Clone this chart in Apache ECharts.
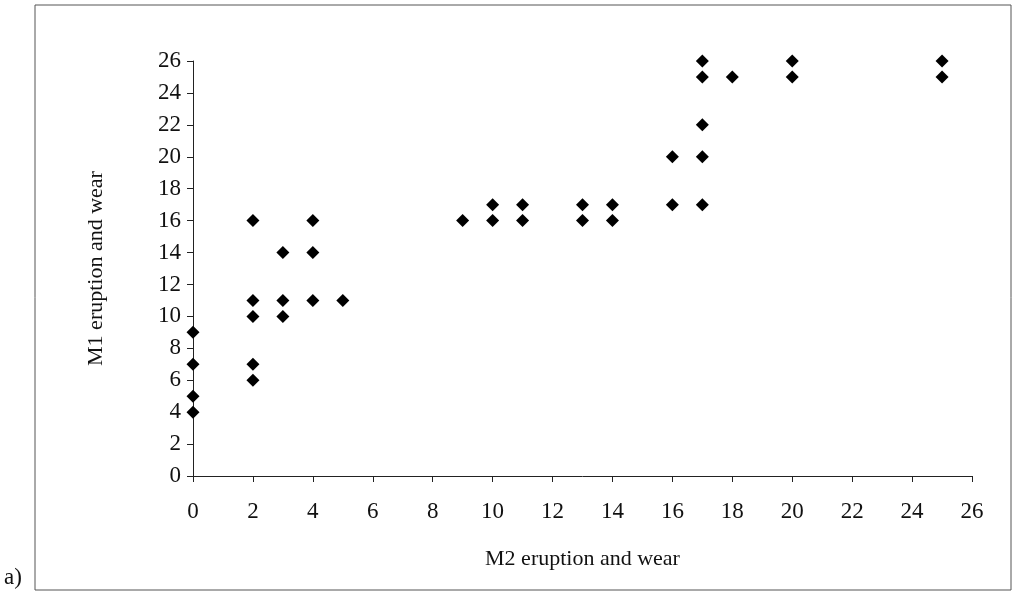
<!DOCTYPE html>
<html>
<head>
<meta charset="utf-8">
<script src="https://cdn.jsdelivr.net/npm/echarts@6/dist/echarts.min.js"></script>
<style>
  html, body { margin: 0; padding: 0; background: #fff; }
  #chart { width: 1017px; height: 597px; }
</style>
</head>
<body>
<div id="chart"></div>
<script>
// M2 (x) and M1 (y) eruption and wear scores
var m2Scores = [0, 0, 0, 0, 2, 2, 2, 2, 2, 3, 3, 3, 4, 4, 4, 5, 9, 10, 10, 11, 11, 13, 13, 14, 14, 16, 16, 17, 17, 17, 17, 17, 18, 20, 20, 25, 25];
var m1Scores = [9, 7, 5, 4, 16, 11, 10, 7, 6, 14, 11, 10, 16, 14, 11, 11, 16, 17, 16, 17, 16, 17, 16, 17, 16, 20, 17, 26, 25, 22, 20, 17, 25, 26, 25, 26, 25];
var xTitle = 'M2 eruption and wear';
var yTitle = 'M1 eruption and wear';
var panelLabel = 'a)';

var points = [];
for (var i = 0; i < m2Scores.length; i++) {
    points.push([m2Scores[i], m1Scores[i]]);
}

var font = "'Liberation Serif', 'DejaVu Serif', serif";
var myChart = echarts.init(document.getElementById('chart'));

var option = {
    backgroundColor: '#fff',
    animation: false,
    grid: { left: 193, right: 45, top: 61, bottom: 121 },
    xAxis: {
        type: 'value',
        min: 0, max: 26, interval: 2,
        name: xTitle,
        nameLocation: 'middle',
        nameGap: 72,
        nameTextStyle: { fontFamily: font, fontSize: 22, color: '#111' },
        axisLine: { show: true, onZero: false, lineStyle: { color: '#222', width: 1 } },
        axisTick: { show: true, inside: false, length: 6, lineStyle: { color: '#222' } },
        axisLabel: { fontFamily: font, fontSize: 23, color: '#111', margin: 24 },
        splitLine: { show: false }
    },
    yAxis: {
        type: 'value',
        min: 0, max: 26, interval: 2,
        name: yTitle,
        nameLocation: 'middle',
        nameGap: 86,
        nameTextStyle: { fontFamily: font, fontSize: 22, color: '#111' },
        axisLine: { show: true, lineStyle: { color: '#222', width: 1 } },
        axisTick: { show: true, inside: false, length: 6, lineStyle: { color: '#222' } },
        axisLabel: { fontFamily: font, fontSize: 23, color: '#111', margin: 12 },
        splitLine: { show: false }
    },
    graphic: [
        {
            type: 'rect',
            shape: { x: 35, y: 5, width: 976, height: 585 },
            style: { fill: 'none', stroke: '#555', lineWidth: 1 },
            silent: true
        },
        {
            type: 'text',
            left: 4, top: 566,
            style: { text: panelLabel, font: '23px ' + font, fill: '#111' }
        }
    ],
    series: [
        {
            type: 'scatter',
            data: points,
            symbol: 'diamond',
            symbolSize: 13,
            itemStyle: { color: '#000', opacity: 1 }
        }
    ]
};

myChart.setOption(option);
</script>
</body>
</html>
